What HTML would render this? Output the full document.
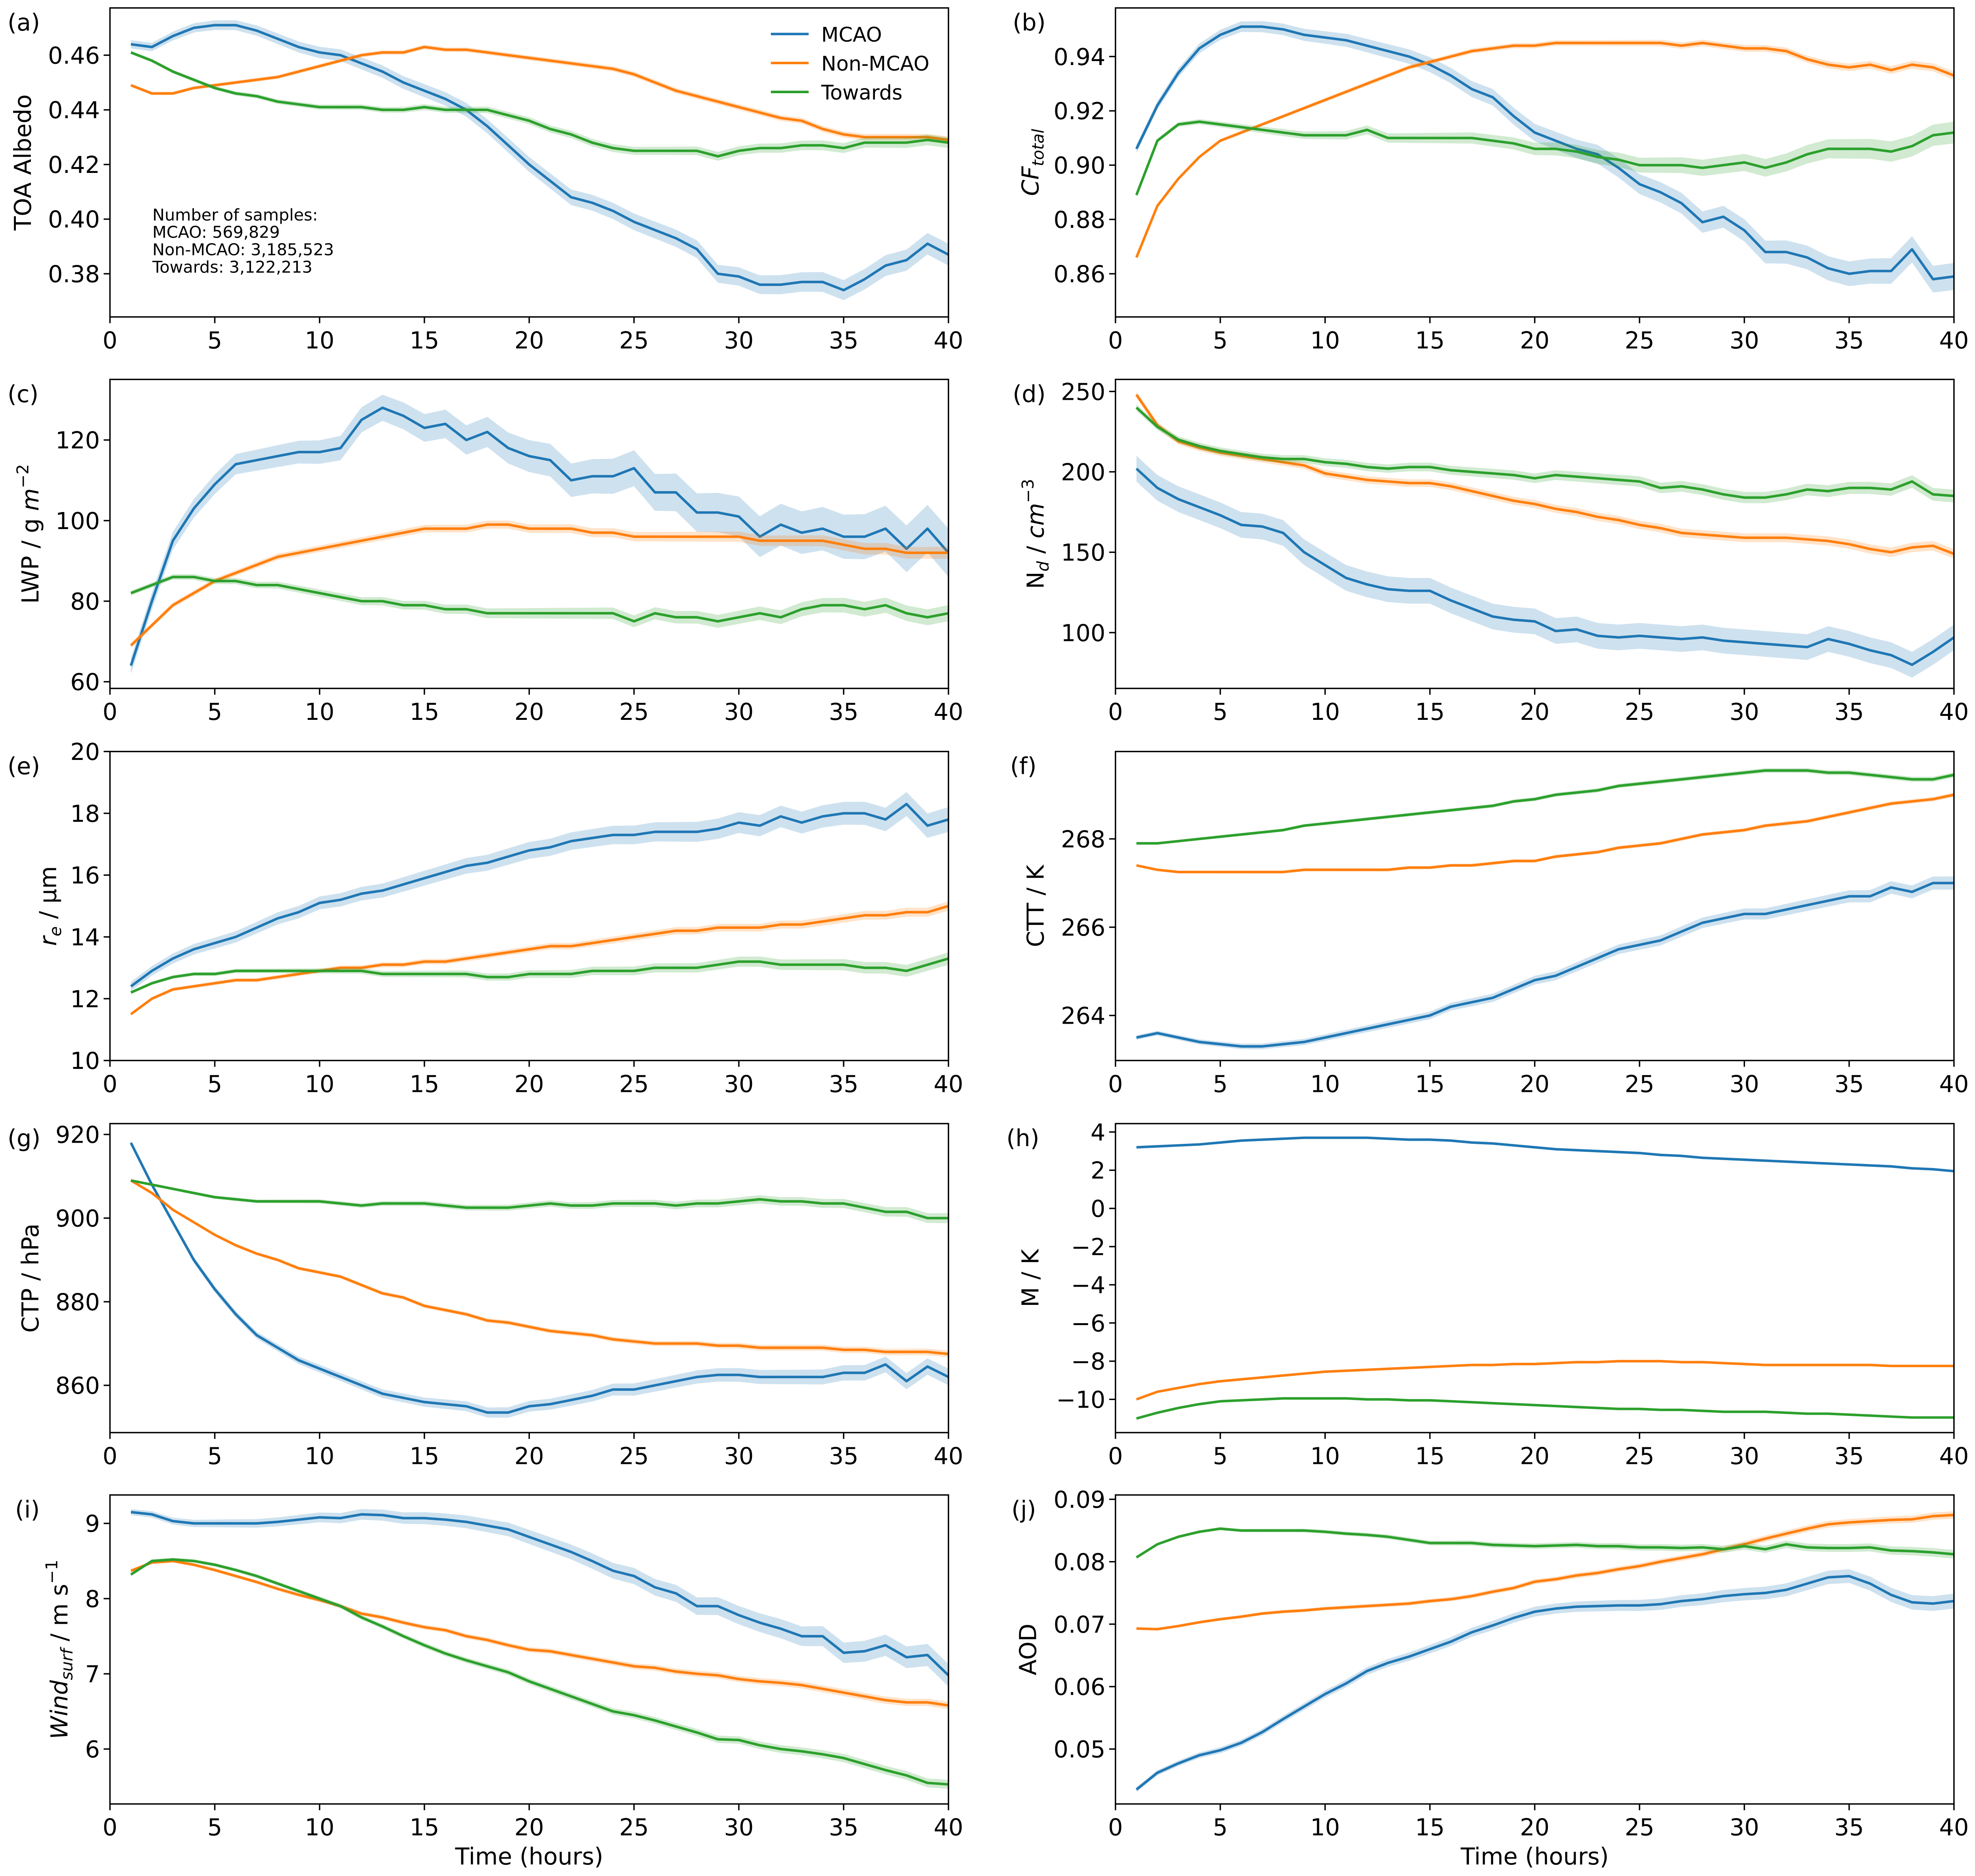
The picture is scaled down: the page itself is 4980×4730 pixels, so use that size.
<!DOCTYPE html>
<html><head><meta charset="utf-8"><style>
html,body{margin:0;padding:0;background:#fff;}
svg{display:block;font-family:"DejaVu Sans","Liberation Sans",sans-serif;}
</style></head><body>
<svg id="fig" xmlns="http://www.w3.org/2000/svg" width="4980" height="4730" viewBox="0 0 1568 1489.3" preserveAspectRatio="none"></svg>
<script>
const hours=[1,2,3,4,5,6,7,8,9,10,11,12,13,14,15,16,17,18,19,20,21,22,23,24,25,26,27,28,29,30,31,32,33,34,35,36,37,38,39,40];
const xTicks=[0,5,10,15,20,25,30,35,40];
const seriesNames=["MCAO","Non-MCAO","Towards"];
// (a) albedo
const albMcao=[.464,.463,.467,.470,.471,.471,.469,.466,.463,.461,.460,.457,.454,.450,.447,.444,.440,.434,.427,.420,.414,.408,.406,.403,.399,.396,.393,.389,.380,.379,.376,.376,.377,.377,.374,.378,.383,.385,.391,.387];
const albNon=[.449,.446,.446,.448,.449,.450,.451,.452,.454,.456,.458,.460,.461,.461,.463,.462,.462,.461,.460,.459,.458,.457,.456,.455,.453,.450,.447,.445,.443,.441,.439,.437,.436,.433,.431,.430,.430,.430,.430,.429];
const albTow=[.461,.458,.454,.451,.448,.446,.445,.443,.442,.441,.441,.441,.440,.440,.441,.440,.440,.440,.438,.436,.433,.431,.428,.426,.425,.425,.425,.425,.423,.425,.426,.426,.427,.427,.426,.428,.428,.428,.429,.428];
const albTicks=[0.38,0.40,0.42,0.44,0.46];
// (b) CF
const cfMcao=[.906,.922,.934,.943,.948,.951,.951,.950,.948,.947,.946,.944,.942,.940,.937,.933,.928,.925,.918,.912,.909,.906,.904,.899,.893,.890,.886,.879,.881,.876,.868,.868,.866,.862,.860,.861,.861,.869,.858,.859];
const cfNon=[.866,.885,.895,.903,.909,.912,.915,.918,.921,.924,.927,.930,.933,.936,.938,.940,.942,.943,.944,.944,.945,.945,.945,.945,.945,.945,.944,.945,.944,.943,.943,.942,.939,.937,.936,.937,.935,.937,.936,.933];
const cfTow=[.889,.909,.915,.916,.915,.914,.913,.912,.911,.911,.911,.913,.910,.910,.910,.910,.910,.909,.908,.906,.906,.905,.903,.902,.900,.900,.900,.899,.900,.901,.899,.901,.904,.906,.906,.906,.905,.907,.911,.912];
const cfTicks=[0.86,0.88,0.90,0.92,0.94];
// (c) LWP
const lwpMcao=[64,80,95,103,109,114,115,116,117,117,118,125,128,126,123,124,120,122,118,116,115,110,111,111,113,107,107,102,102,101,96,99,97,98,96,96,98,93,98,92];
const lwpNon=[69,74,79,82,85,87,89,91,92,93,94,95,96,97,98,98,98,99,99,98,98,98,97,97,96,96,96,96,96,96,95,95,95,95,94,93,93,92,92,92];
const lwpTow=[82,84,86,86,85,85,84,84,83,82,81,80,80,79,79,78,78,77,77,77,77,77,77,77,75,77,76,76,75,76,77,76,78,79,79,78,79,77,76,77];
const lwpTicks=[60,80,100,120];
// (d) Nd
const ndMcao=[202,190,183,178,173,167,166,162,150,142,134,130,127,126,126,120,115,110,108,107,101,102,98,97,98,97,96,97,95,94,93,92,91,96,93,89,86,80,88,97];
const ndNon=[248,229,219,215,212,210,208,206,204,199,197,195,194,193,193,191,188,185,182,180,177,175,172,170,167,165,162,161,160,159,159,159,158,157,155,152,150,153,154,149];
const ndTow=[240,228,220,216,213,211,209,208,208,206,205,203,202,203,203,201,200,199,198,196,198,197,196,195,194,190,191,189,186,184,184,186,189,188,190,190,189,194,186,185];
const ndTicks=[100,150,200,250];
// (e) re
const reMcao=[12.4,12.9,13.3,13.6,13.8,14.0,14.3,14.6,14.8,15.1,15.2,15.4,15.5,15.7,15.9,16.1,16.3,16.4,16.6,16.8,16.9,17.1,17.2,17.3,17.3,17.4,17.4,17.4,17.5,17.7,17.6,17.9,17.7,17.9,18.0,18.0,17.8,18.3,17.6,17.8];
const reNon=[11.5,12.0,12.3,12.4,12.5,12.6,12.6,12.7,12.8,12.9,13.0,13.0,13.1,13.1,13.2,13.2,13.3,13.4,13.5,13.6,13.7,13.7,13.8,13.9,14.0,14.1,14.2,14.2,14.3,14.3,14.3,14.4,14.4,14.5,14.6,14.7,14.7,14.8,14.8,15.0];
const reTow=[12.2,12.5,12.7,12.8,12.8,12.9,12.9,12.9,12.9,12.9,12.9,12.9,12.8,12.8,12.8,12.8,12.8,12.7,12.7,12.8,12.8,12.8,12.9,12.9,12.9,13.0,13.0,13.0,13.1,13.2,13.2,13.1,13.1,13.1,13.1,13.0,13.0,12.9,13.1,13.3];
const reTicks=[10,12,14,16,18,20];
// (f) CTT
const cttMcao=[263.5,263.6,263.5,263.4,263.35,263.3,263.3,263.35,263.4,263.5,263.6,263.7,263.8,263.9,264.0,264.2,264.3,264.4,264.6,264.8,264.9,265.1,265.3,265.5,265.6,265.7,265.9,266.1,266.2,266.3,266.3,266.4,266.5,266.6,266.7,266.7,266.9,266.8,267.0,267.0];
const cttNon=[267.4,267.3,267.25,267.25,267.25,267.25,267.25,267.25,267.3,267.3,267.3,267.3,267.3,267.35,267.35,267.4,267.4,267.45,267.5,267.5,267.6,267.65,267.7,267.8,267.85,267.9,268.0,268.1,268.15,268.2,268.3,268.35,268.4,268.5,268.6,268.7,268.8,268.85,268.9,269.0];
const cttTow=[267.9,267.9,267.95,268.0,268.05,268.1,268.15,268.2,268.3,268.35,268.4,268.45,268.5,268.55,268.6,268.65,268.7,268.75,268.85,268.9,269.0,269.05,269.1,269.2,269.25,269.3,269.35,269.4,269.45,269.5,269.55,269.55,269.55,269.5,269.5,269.45,269.4,269.35,269.35,269.45];
const cttTicks=[264,266,268];
// (g) CTP
const ctpMcao=[918,908,899,890,883,877,872,869,866,864,862,860,858,857,856,855.5,855,853.5,853.5,855,855.5,856.5,857.5,859,859,860,861,862,862.5,862.5,862,862,862,862,863,863,865,861,864.5,862];
const ctpNon=[909,906,902,899,896,893.5,891.5,890,888,887,886,884,882,881,879,878,877,875.5,875,874,873,872.5,872,871,870.5,870,870,870,869.5,869.5,869,869,869,869,868.5,868.5,868,868,868,867.5];
const ctpTow=[909,908,907,906,905,904.5,904,904,904,904,903.5,903,903.5,903.5,903.5,903,902.5,902.5,902.5,903,903.5,903,903,903.5,903.5,903.5,903,903.5,903.5,904,904.5,904,904,903.5,903.5,902.5,901.5,901.5,900,900];
const ctpTicks=[860,880,900,920];
// (h) M
const mMcao=[3.2,3.25,3.3,3.35,3.45,3.55,3.6,3.65,3.7,3.7,3.7,3.7,3.65,3.6,3.6,3.55,3.45,3.4,3.3,3.2,3.1,3.05,3.0,2.95,2.9,2.8,2.75,2.65,2.6,2.55,2.5,2.45,2.4,2.35,2.3,2.25,2.2,2.1,2.05,1.95];
const mNon=[-10,-9.6,-9.4,-9.2,-9.05,-8.95,-8.85,-8.75,-8.65,-8.55,-8.5,-8.45,-8.4,-8.35,-8.3,-8.25,-8.2,-8.2,-8.15,-8.15,-8.1,-8.05,-8.05,-8.0,-8.0,-8.0,-8.05,-8.05,-8.1,-8.15,-8.2,-8.2,-8.2,-8.2,-8.2,-8.2,-8.25,-8.25,-8.25,-8.25];
const mTow=[-11.0,-10.7,-10.45,-10.25,-10.1,-10.05,-10.0,-9.95,-9.95,-9.95,-9.95,-10.0,-10.0,-10.05,-10.05,-10.1,-10.15,-10.2,-10.25,-10.3,-10.35,-10.4,-10.45,-10.5,-10.5,-10.55,-10.55,-10.6,-10.65,-10.65,-10.65,-10.7,-10.75,-10.75,-10.8,-10.85,-10.9,-10.95,-10.95,-10.95];
const mTicks=[-10,-8,-6,-4,-2,0,2,4];
// (i) wind
const windMcao=[9.15,9.12,9.03,9.0,9.0,9.0,9.0,9.02,9.05,9.08,9.07,9.12,9.11,9.07,9.07,9.05,9.02,8.97,8.92,8.82,8.72,8.62,8.5,8.37,8.3,8.15,8.07,7.9,7.9,7.78,7.68,7.6,7.5,7.5,7.28,7.3,7.38,7.22,7.25,6.98];
const windNon=[8.37,8.48,8.5,8.45,8.38,8.3,8.22,8.13,8.05,7.98,7.9,7.8,7.75,7.68,7.62,7.58,7.5,7.45,7.38,7.32,7.3,7.25,7.2,7.15,7.1,7.08,7.03,7.0,6.98,6.93,6.9,6.88,6.85,6.8,6.75,6.7,6.65,6.62,6.62,6.58];
const windTow=[8.32,8.5,8.52,8.5,8.45,8.38,8.3,8.2,8.1,8.0,7.9,7.75,7.63,7.5,7.38,7.27,7.18,7.1,7.02,6.9,6.8,6.7,6.6,6.5,6.45,6.38,6.3,6.22,6.13,6.12,6.05,6.0,5.97,5.93,5.88,5.8,5.72,5.65,5.55,5.53];
const windTicks=[6,7,8,9];
// (j) AOD
const aodMcao=[.0435,.0462,.0477,.0490,.0498,.0510,.0527,.0548,.0568,.0588,.0605,.0625,.0638,.0648,.0660,.0672,.0687,.0698,.0710,.0720,.0725,.0728,.0729,.0730,.0730,.0732,.0737,.0740,.0745,.0748,.0750,.0755,.0765,.0775,.0777,.0765,.0747,.0735,.0733,.0737];
const aodNon=[.0693,.0692,.0697,.0703,.0708,.0712,.0717,.0720,.0722,.0725,.0727,.0729,.0731,.0733,.0737,.0740,.0745,.0752,.0758,.0768,.0772,.0778,.0782,.0788,.0793,.0800,.0806,.0812,.0820,.0828,.0837,.0845,.0853,.0860,.0863,.0865,.0867,.0868,.0873,.0875];
const aodTow=[.0807,.0828,.0840,.0848,.0853,.0850,.0850,.0850,.0850,.0848,.0845,.0843,.0840,.0835,.0830,.0830,.0830,.0827,.0826,.0825,.0826,.0827,.0825,.0825,.0823,.0823,.0822,.0823,.0820,.0825,.0820,.0828,.0823,.0822,.0822,.0823,.0818,.0817,.0815,.0812];
const aodTicks=[0.05,0.06,0.07,0.08,0.09];
// confidence band half-widths [start,end] per series
const albCI=[[.0015,.004],[.0006,.0012],[.0006,.002]];
const cfCI=[[.0015,.005],[.0005,.0015],[.0007,.004]];
const lwpCI=[[2,6],[0.6,1.5],[0.6,2]];
const ndCI=[[8,8],[2,3],[2,4]];
const reCI=[[0.15,0.4],[0.05,0.15],[0.05,0.2]];
const cttCI=[[0.05,0.15],[0.03,0.05],[0.03,0.06]];
const ctpCI=[[0.6,2],[0.3,0.8],[0.3,1.2]];
const mCI=[[0.03,0.05],[0.02,0.03],[0.02,0.03]];
const windCI=[[0.04,0.15],[0.02,0.05],[0.02,0.06]];
const aodCI=[[0.0004,0.0012],[0.0002,0.0006],[0.0002,0.0007]];

const NS="http://www.w3.org/2000/svg";
const svg=document.getElementById('fig');
const COLORS=["#1f77b4","#ff7f0e","#2ca02c"];
const LEFTS=[87.3,885.6], AXW=665.7, TOPS=[6.3,301.2,596.6,892,1186.8], AXH=245.3;
const FS=18.5, SUB=13;
function mk(tag,attrs,parent){const e=document.createElementNS(NS,tag);for(const k in attrs)e.setAttribute(k,attrs[k]);(parent||svg).appendChild(e);return e;}

const panels=[
 {id:"a",col:0,row:0,ylim:[0.3642,0.4773],ticks:albTicks,fmt:v=>v.toFixed(2),data:[albMcao,albNon,albTow],ci:albCI,lx:18,panelX:6,label:'TOA Albedo'},
 {id:"b",col:1,row:0,ylim:[0.8441,0.9579],ticks:cfTicks,fmt:v=>v.toFixed(2),data:[cfMcao,cfNon,cfTow],ci:cfCI,lx:818,panelX:804,label:'<tspan font-style="italic">CF</tspan><tspan font-style="italic" font-size="'+SUB+'" dy="4">total</tspan>'},
 {id:"c",col:0,row:1,ylim:[58.35,135.04],ticks:lwpTicks,fmt:v=>String(v),data:[lwpMcao,lwpNon,lwpTow],ci:lwpCI,lx:24,panelX:6,label:'LWP / g <tspan font-style="italic">m</tspan><tspan font-size="'+SUB+'" dy="-8">−2</tspan>'},
 {id:"d",col:1,row:1,ylim:[65.3,257.5],ticks:ndTicks,fmt:v=>String(v),data:[ndMcao,ndNon,ndTow],ci:ndCI,lx:822,panelX:804,label:'N<tspan font-style="italic" font-size="'+SUB+'" dy="4">d</tspan><tspan dy="-4"> / </tspan><tspan font-style="italic">cm</tspan><tspan font-size="'+SUB+'" dy="-8">−3</tspan>'},
 {id:"e",col:0,row:2,ylim:[10,20],ticks:reTicks,fmt:v=>String(v),data:[reMcao,reNon,reTow],ci:reCI,lx:38,panelX:6,label:'<tspan font-style="italic">r</tspan><tspan font-style="italic" font-size="'+SUB+'" dy="4">e</tspan><tspan dy="-4"> / μm</tspan>'},
 {id:"f",col:1,row:2,ylim:[262.98,269.98],ticks:cttTicks,fmt:v=>String(v),data:[cttMcao,cttNon,cttTow],ci:cttCI,lx:822,panelX:802,label:'CTT / K'},
 {id:"g",col:0,row:3,ylim:[848.7,922.6],ticks:ctpTicks,fmt:v=>String(v),data:[ctpMcao,ctpNon,ctpTow],ci:ctpCI,lx:24,panelX:6,label:'CTP / hPa'},
 {id:"h",col:1,row:3,ylim:[-11.74,4.44],ticks:mTicks,fmt:v=>(v<0?'−':'')+Math.abs(v),data:[mMcao,mNon,mTow],ci:mCI,lx:818,panelX:799,label:'M / K'},
 {id:"i",col:0,row:4,ylim:[5.27,9.378],ticks:windTicks,fmt:v=>String(v),data:[windMcao,windNon,windTow],ci:windCI,lx:47,panelX:12,label:'<tspan font-style="italic">Wind</tspan><tspan font-style="italic" font-size="'+SUB+'" dy="4">surf</tspan><tspan dy="-4"> / m s</tspan><tspan font-size="'+SUB+'" dy="-8">−1</tspan>'},
 {id:"j",col:1,row:4,ylim:[0.0412,0.0907],ticks:aodTicks,fmt:v=>v.toFixed(2),data:[aodMcao,aodNon,aodTow],ci:aodCI,lx:816,panelX:803,label:'AOD'}
];

panels.forEach(p=>{
  const L=LEFTS[p.col], T=TOPS[p.row];
  const xs=v=>L+v/40*AXW;
  const ys=v=>T+AXH-(v-p.ylim[0])/(p.ylim[1]-p.ylim[0])*AXH;
  const g=mk('g',{});
  
  
  const clipId='clip'+p.id;
  const cp=mk('clipPath',{id:clipId},g);
  mk('rect',{x:L,y:T,width:AXW,height:AXH},cp);
  const plot=mk('g',{'clip-path':'url(#'+clipId+')'},g);
  
  
  p.data.forEach((arr,si)=>{
    const ci=p.ci[si];
    let up=[],dn=[];
    arr.forEach((v,i)=>{const w=ci[0]+(ci[1]-ci[0])*i/(arr.length-1);up.push(xs(hours[i]).toFixed(2)+','+ys(v+w).toFixed(2));dn.unshift(xs(hours[i]).toFixed(2)+','+ys(v-w).toFixed(2));});
    const band=mk('polygon',{points:up.concat(dn).join(' '),fill:COLORS[si],'fill-opacity':0.22,stroke:'none'},plot);
    
    
    const pts=arr.map((v,i)=>xs(hours[i]).toFixed(2)+','+ys(v).toFixed(2)).join(' ');
    const line=mk('polyline',{points:pts,fill:'none',stroke:COLORS[si],'stroke-width':2,'stroke-linejoin':'round'},plot);
    
    
  });
  const frame=mk('rect',{x:L,y:T,width:AXW,height:AXH,fill:'none',stroke:'#000','stroke-width':1.1},g);
  
  
  xTicks.forEach(t=>{
    const x=xs(t);
    mk('line',{x1:x,x2:x,y1:T+AXH,y2:T+AXH+5,stroke:'#000','stroke-width':1.1},g);
    const tx=mk('text',{x:x,y:T+AXH+25,'font-size':FS,'text-anchor':'middle'},g);
    tx.textContent=String(t);
    
    
  });
  p.ticks.forEach(t=>{
    const y=ys(t);
    mk('line',{x1:L-5,x2:L,y1:y,y2:y,stroke:'#000','stroke-width':1.1},g);
    const ty=mk('text',{x:L-8,y:y+6.7,'font-size':FS,'text-anchor':'end'},g);
    ty.textContent=p.fmt(t);
    
    
  });
  const yl=mk('text',{x:0,y:0,'font-size':FS,'text-anchor':'middle',transform:'translate('+(p.lx+6.5)+','+(T+AXH/2)+') rotate(-90)'},g);
  yl.innerHTML=p.label;
  
  
  const pl=mk('text',{x:p.panelX,y:T+18,'font-size':FS},g);
  pl.textContent='('+p.id+')';
  
  
  if(p.row===4){
    const xl=mk('text',{x:L+AXW/2,y:T+AXH+48,'font-size':FS,'text-anchor':'middle'},g);
    xl.textContent='Time (hours)';
    
    
  }
});

// legend in (a)
const leg=mk('g',{});


seriesNames.forEach((n,i)=>{
  const y=27+i*23;
  const ln=mk('line',{x1:612,x2:642,y1:y,y2:y,stroke:COLORS[i],'stroke-width':2},leg);
  
  
  const t=mk('text',{x:652,y:y+6,'font-size':16},leg);
  t.textContent=n;
  
  
});
// sample counts
const sampleLines=["Number of samples:","MCAO: 569,829","Non-MCAO: 3,185,523","Towards: 3,122,213"];
const st=mk('g',{});


sampleLines.forEach((s,i)=>{
  const t=mk('text',{x:121,y:175+i*13.8,'font-size':13},st);
  t.textContent=s;
  
  
});
</script>
</body></html>
